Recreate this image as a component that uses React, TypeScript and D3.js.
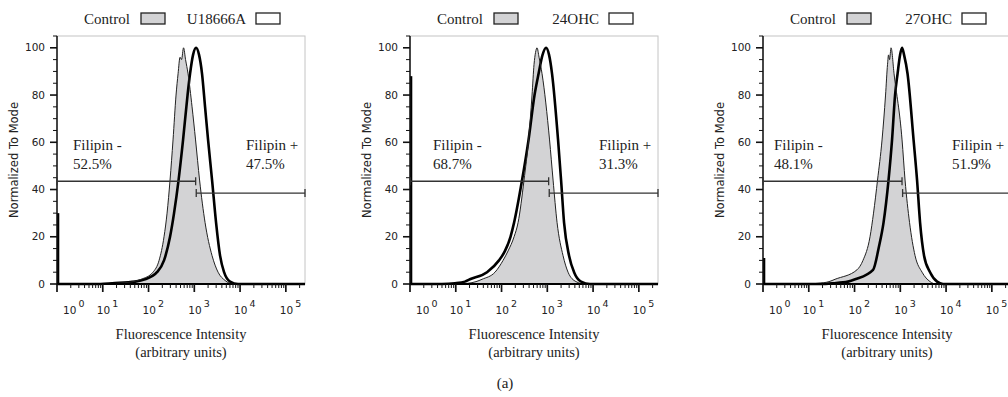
import React, { useRef, useEffect } from 'react';
import * as d3 from 'd3';

// ---- data ----
const treatments = ['U18666A', '24OHC', '27OHC'];
const filipinNegPct = ['52.5%', '68.7%', '48.1%'];
const filipinPosPct = ['47.5%', '31.3%', '51.9%'];
const gateCut = [1070, 1070, 1090];
const gateNegLevel = 43.5;
const gatePosLevel = 38.5;
const zeroPileUp = [30, 88, 11]; // events stacked at the axis minimum (treated)

const yTicks = [0, 20, 40, 60, 80, 100];
const decades = [0, 1, 2, 3, 4, 5];
const xMin = 1;
const xMax = 262144;

// [intensity, % of mode]
const controlU18666A: [number, number][] = [
    [1, 0], [12, 0], [20, 0.3], [46, 1], [69, 2], [125, 5], [170, 10], [218, 20], [254, 30],
    [295, 44], [343, 61], [399, 80], [442, 89], [488, 96], [526, 95], [582, 100], [644, 95],
    [730, 89], [893, 75], [1065, 61], [1303, 44], [1718, 26], [2443, 12], [3305, 5], [4700, 1.5],
    [7030, 0], [262144, 0],
];
const treatedU18666A: [number, number][] = [
    [1, 0], [9, 0], [16, 0.3], [51, 1], [84, 2], [153, 5], [218, 10], [295, 20], [361, 30],
    [453, 44], [568, 61], [712, 80], [807, 89], [939, 97], [1092, 100], [1270, 97], [1476, 89],
    [1718, 75], [1999, 61], [2443, 44], [2988, 26], [3654, 12], [4469, 5], [6043, 1], [9041, 0],
    [262144, 0],
];
const control24OHC: [number, number][] = [
    [1, 0], [10, 0], [18.5, 0.3], [27.7, 1], [37.5, 2], [72, 5], [108, 10], [139, 14], [188, 20],
    [230, 26], [310, 44], [389, 61], [464, 80], [513, 93], [553, 98], [597, 100], [660, 96],
    [768, 89], [1120, 61], [1336, 44], [1634, 26], [2209, 12], [2841, 5], [4250, 1], [6686, 0],
    [262144, 0],
];
const treated24OHC: [number, number][] = [
    [1, 0], [5, 0], [9.6, 0.3], [15.9, 1], [20.4, 2], [48.2, 5], [88, 10], [119, 14], [157, 20],
    [188, 26], [281, 44], [389, 61], [526, 80], [644, 89], [787, 97], [939, 100], [1092, 97],
    [1270, 89], [1718, 61], [1999, 44], [2323, 26], [2988, 12], [3843, 5], [5460, 1], [8590, 0],
    [262144, 0],
];
const control27OHC: [number, number][] = [
    [1, 0], [9, 0], [15.9, 0.3], [27.7, 1], [37.5, 2], [113, 6], [153, 10], [218, 20], [260, 30],
    [318, 44], [399, 61], [476, 80], [526, 93], [553, 97], [582, 95], [628, 100], [730, 89],
    [1092, 61], [1270, 44], [1593, 26], [2101, 12], [2988, 5], [4469, 1], [6043, 0], [262144, 0],
];
const treated27OHC: [number, number][] = [
    [1, 0], [18, 0], [34, 0.3], [72, 1], [103, 2], [254, 6], [343, 16], [430, 26], [553, 44],
    [660, 61], [768, 80], [871, 89], [988, 97], [1092, 100], [1208, 97], [1440, 89], [1949, 61],
    [2323, 44], [2704, 26], [3305, 12], [4469, 5], [6355, 1], [8590, 0], [262144, 0],
];
const controlSeries = [controlU18666A, control24OHC, control27OHC];
const treatedSeries = [treatedU18666A, treated24OHC, treated27OHC];

// ---- layout ----
const W = 1008;
const H = 397;
const panelX = [57, 410, 763];
const negLabelDx = [16, 23, 11];
const plotW = 248;
const plotTop = 36;
const plotBottom = 284;
const serif = '"Liberation Serif", "Times New Roman", serif';
const sans = '"DejaVu Sans", Verdana, sans-serif';
const grayFill = '#d3d3d5';

const App: React.FC = () => {
    const svgRef = useRef<SVGSVGElement | null>(null);

    useEffect(() => {
        if (!svgRef.current) return;
        const svg = d3.select(svgRef.current);
        svg.selectAll('*').remove();

        svg.append('rect').attr('width', W).attr('height', H).attr('fill', 'white');

        const y = d3.scaleLinear().domain([0, 105]).range([plotBottom, plotTop]);

        panelX.forEach((x0, p) => {
            const x = d3.scaleLog().domain([xMin, xMax]).range([x0, x0 + plotW]);
            const g = svg.append('g');

            // frame
            g.append('rect')
                .attr('x', x0).attr('y', plotTop)
                .attr('width', plotW).attr('height', plotBottom - plotTop)
                .attr('fill', 'none').attr('stroke', '#c4c4c4').attr('stroke-width', 1);

            const clipId = `clip-${p}`;
            svg.append('defs').append('clipPath').attr('id', clipId)
                .append('rect').attr('x', x0).attr('y', plotTop - 2)
                .attr('width', plotW).attr('height', plotBottom - plotTop + 4);
            const plot = g.append('g').attr('clip-path', `url(#${clipId})`);

            const area = d3.area<[number, number]>()
                .x(d => x(d[0])).y0(y(0)).y1(d => y(d[1]))
                .curve(d3.curveMonotoneX);
            const line = d3.line<[number, number]>()
                .x(d => x(d[0])).y(d => y(d[1]))
                .curve(d3.curveMonotoneX);

            plot.append('path').datum(controlSeries[p])
                .attr('d', area).attr('fill', grayFill);
            plot.append('path').datum(treatedSeries[p])
                .attr('d', line).attr('fill', 'none')
                .attr('stroke', '#000').attr('stroke-width', 2.6).attr('stroke-linejoin', 'round');
            plot.append('path').datum(controlSeries[p])
                .attr('d', line).attr('fill', 'none')
                .attr('stroke', '#222').attr('stroke-width', 1);

            // pile-up at minimum
            plot.append('line')
                .attr('x1', x(xMin) + 1).attr('x2', x(xMin) + 1)
                .attr('y1', y(0)).attr('y2', y(zeroPileUp[p]))
                .attr('stroke', '#000').attr('stroke-width', 2.6);

            // y axis
            g.append('line')
                .attr('x1', x0).attr('x2', x0).attr('y1', plotTop).attr('y2', plotBottom + 1)
                .attr('stroke', '#111').attr('stroke-width', 1.5);
            const yMinor = d3.range(0, 106, 5);
            g.selectAll('line.ytick').data(yMinor).join('line')
                .attr('class', 'ytick')
                .attr('x1', x0).attr('x2', d => x0 - (d % 20 === 0 ? 7 : 4))
                .attr('y1', d => y(d)).attr('y2', d => y(d))
                .attr('stroke', '#111').attr('stroke-width', d => (d % 20 === 0 ? 1.6 : 1));
            g.selectAll('text.ylab').data(yTicks).join('text')
                .attr('class', 'ylab')
                .attr('x', x0 - 12).attr('y', d => y(d)).attr('dy', '0.35em')
                .attr('text-anchor', 'end').attr('font-family', sans).attr('font-size', 10.5)
                .attr('fill', '#222').text(d => d);

            g.append('text')
                .attr('transform', `translate(${x0 - 43},${160}) rotate(-90)`)
                .attr('text-anchor', 'middle').attr('dy', '0.35em')
                .attr('font-family', sans).attr('font-size', 11.5).attr('fill', '#222')
                .text('Normalized To Mode');

            // x axis
            g.append('line')
                .attr('x1', x0).attr('x2', x0 + plotW).attr('y1', plotBottom).attr('y2', plotBottom)
                .attr('stroke', '#000').attr('stroke-width', 1.8);
            const minors: number[] = [];
            decades.forEach(e => {
                for (let k = 2; k <= 9; k++) {
                    const v = k * Math.pow(10, e);
                    if (v <= xMax) minors.push(v);
                }
            });
            g.selectAll('line.xminor').data(minors).join('line')
                .attr('class', 'xminor')
                .attr('x1', d => x(d)).attr('x2', d => x(d))
                .attr('y1', plotBottom).attr('y2', plotBottom + 4)
                .attr('stroke', '#111').attr('stroke-width', 1);
            g.selectAll('line.xmajor').data(decades).join('line')
                .attr('class', 'xmajor')
                .attr('x1', d => x(Math.pow(10, d))).attr('x2', d => x(Math.pow(10, d)))
                .attr('y1', plotBottom).attr('y2', plotBottom + 8)
                .attr('stroke', '#111').attr('stroke-width', 1.7);
            const xl = g.selectAll('text.xlab').data(decades).join('text')
                .attr('class', 'xlab')
                .attr('x', d => x(Math.pow(10, d)) + (d === 0 ? 12 : 0) - 6)
                .attr('y', 314)
                .attr('font-family', sans).attr('font-size', 10.5).attr('fill', '#222');
            xl.append('tspan').text('10');
            xl.append('tspan').attr('dy', -7).attr('dx', 2).attr('font-size', 9.5).text(d => d);

            const cx = x0 + plotW / 2;
            g.append('text').attr('x', cx).attr('y', 339).attr('text-anchor', 'middle')
                .attr('font-family', serif).attr('font-size', 14.5).attr('fill', '#222')
                .text('Fluorescence Intensity');
            g.append('text').attr('x', cx).attr('y', 357).attr('text-anchor', 'middle')
                .attr('font-family', serif).attr('font-size', 14.5).attr('fill', '#222')
                .text('(arbitrary units)');

            // gates
            const gate = (a: number, b: number, lvl: number) => {
                const gy = y(lvl);
                g.append('line').attr('x1', x(a)).attr('x2', x(b)).attr('y1', gy).attr('y2', gy)
                    .attr('stroke', '#333').attr('stroke-width', 1.3);
                [a, b].forEach(v => {
                    g.append('line').attr('x1', x(v)).attr('x2', x(v))
                        .attr('y1', gy - 4).attr('y2', gy + 4)
                        .attr('stroke', '#333').attr('stroke-width', 1.3);
                });
            };
            gate(xMin, gateCut[p], gateNegLevel);
            gate(gateCut[p] * 1.03, xMax, gatePosLevel);

            const txt = (tx: number, ty: number, s: string) =>
                g.append('text').attr('x', tx).attr('y', ty)
                    .attr('font-family', serif).attr('font-size', 15).attr('fill', '#222').text(s);
            txt(x0 + negLabelDx[p], 150, 'Filipin -');
            txt(x0 + negLabelDx[p], 169, filipinNegPct[p]);
            txt(x0 + 189, 150, 'Filipin +');
            txt(x0 + 189, 169, filipinPosPct[p]);

            // legend
            txt(x0 + 27, 24, 'Control');
            g.append('rect').attr('x', x0 + 84).attr('y', 13).attr('width', 24).attr('height', 11)
                .attr('fill', grayFill).attr('stroke', '#222').attr('stroke-width', 1.3);
            g.append('text').attr('x', x0 + 189).attr('y', 24).attr('text-anchor', 'end')
                .attr('font-family', serif).attr('font-size', 15).attr('fill', '#222')
                .text(treatments[p]);
            g.append('rect').attr('x', x0 + 199).attr('y', 13).attr('width', 24).attr('height', 11)
                .attr('fill', 'white').attr('stroke', '#222').attr('stroke-width', 1.3);
        });

        svg.append('text').attr('x', 505).attr('y', 388).attr('text-anchor', 'middle')
            .attr('font-family', serif).attr('font-size', 15).attr('fill', '#222').text('(a)');
    }, []);

    return (
        <svg ref={svgRef} width={W} height={H}
            style={{ position: 'absolute', left: 0, top: 0, display: 'block' }} />
    );
};

export default App;
